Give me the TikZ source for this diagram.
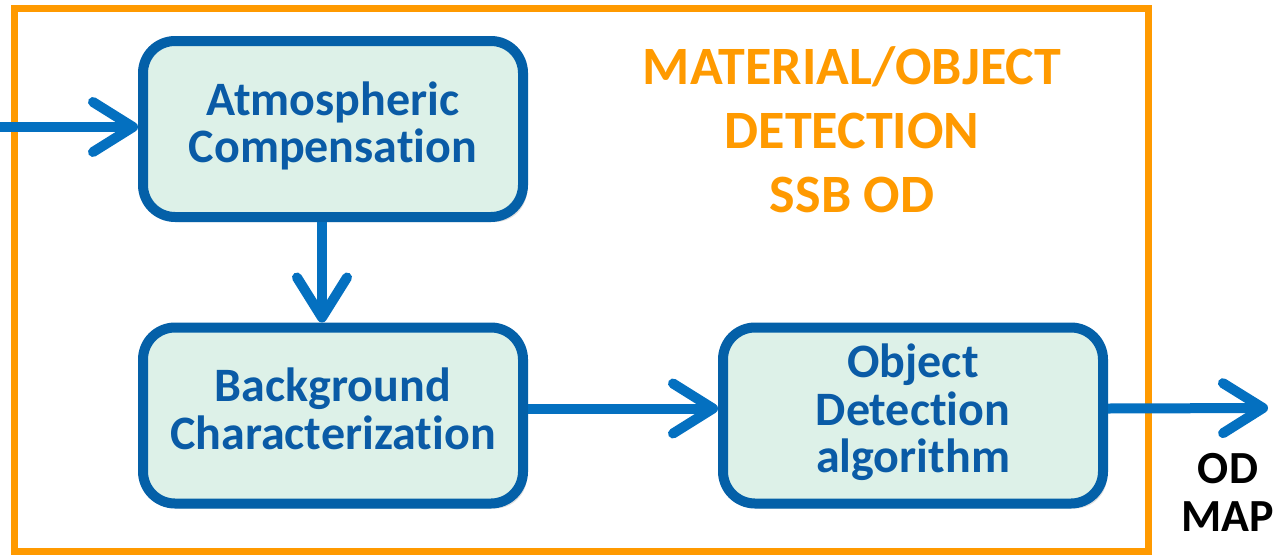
\documentclass[tikz,border=0pt]{standalone}
\usepackage{fontspec}
\setmainfont{Carlito}[Ligatures=NoCommon]
\usetikzlibrary{arrows.meta,shadows}
\definecolor{boxfill}{HTML}{DDF1E8}
\definecolor{boxborder}{HTML}{0460A8}
\definecolor{arrowblue}{HTML}{0470C0}
\definecolor{textblue}{HTML}{0A5BA6}
\definecolor{framorange}{HTML}{FF9A00}
\tikzset{
  procbox/.style={draw=boxborder, fill=boxfill, line width=10pt, rounded corners=32pt,
    minimum width=380pt, minimum height=176pt, align=center, text=textblue,
    font=\fontsize{48}{46}\selectfont\bfseries,
    drop shadow={shadow xshift=4pt, shadow yshift=-5pt, opacity=0.25, fill=gray}},
  flow/.style={draw=arrowblue, line width=10pt,
    -{Straight Barb[length=40pt,width=50pt,line cap=round,line join=round]}},
  titletext/.style={text=framorange, align=center, font=\fontsize{54}{64}\selectfont\bfseries},
  outtext/.style={text=black, align=center, font=\fontsize{46}{48}\selectfont\bfseries}
}
\begin{document}
\begin{tikzpicture}[x=1pt,y=-1pt]
\useasboundingbox (0,0) rectangle (1276,557);
\draw[framorange, line width=7pt] (14,8) rectangle (1148,551);
\node[procbox] (atm) at (333,129) {\raisebox{4pt}{\begin{tabular}{@{}c@{}}Atmospheric\\Compensation\end{tabular}}};
\node[procbox] (bg) at (333,415.5) {\raisebox{4pt}{\begin{tabular}{@{}c@{}}Background\\Characterization\end{tabular}}};
\node[procbox] (od) at (913,415.5) {\raisebox{3pt}{\begin{tabular}{@{}c@{}}Object\\Detection\\algorithm\end{tabular}}};
\node[titletext] (title) at (852,130) {MATERIAL/OBJECT\\DETECTION\\SSB OD};
\node[outtext] (map) at (1228,492) {OD\\MAP};
\coordinate (in) at (-5,127);
\coordinate (out) at (1268,408);
\draw[flow] (in) -- (atm.west |- in);
\draw[flow] ([xshift=-11pt]atm.south) -- ([xshift=-11pt]bg.north);
\draw[flow] ([yshift=7pt]bg.east) -- ([yshift=7pt]od.west);
\draw[flow] ([yshift=7pt]od.east) -- (out);
\end{tikzpicture}
\end{document}
